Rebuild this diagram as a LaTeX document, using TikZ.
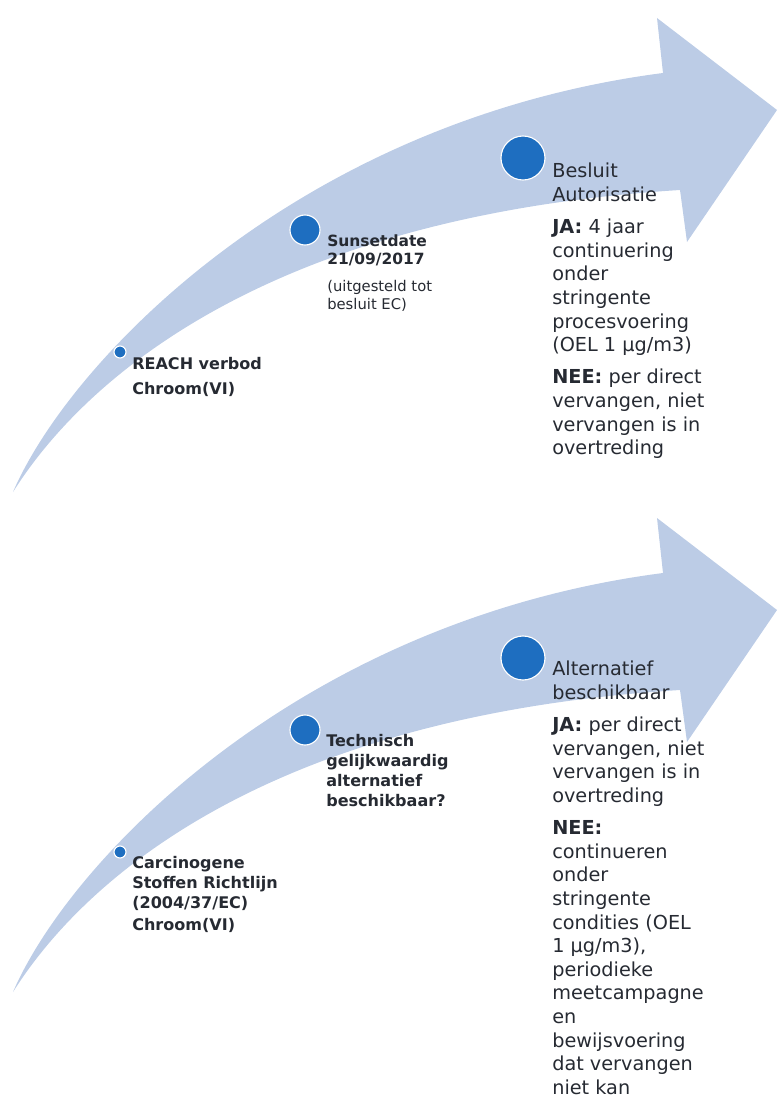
\documentclass[tikz,border=0pt]{standalone}
\usepackage{fontspec}
\setmainfont{DejaVu Sans}
\definecolor{arrowblue}{RGB}{188, 204, 230}
\definecolor{dotblue}{RGB}{30, 110, 192}
\definecolor{txtgray}{RGB}{38, 42, 50}
\usepackage{tikz}

\begin{document}
\begin{tikzpicture}[x=0.025cm, y=-0.025cm,
  mstone/.style={draw=white, line width=0.8pt, circle, fill=dotblue, inner sep=0pt},
  steplbl/.style={anchor=north west, inner sep=0pt, align=left, text=txtgray, font=\fontsize{11.4}{14.2}\selectfont\bfseries},
  outlbl/.style={anchor=north west, inner sep=0pt, align=left, text=txtgray, font=\fontsize{13.7}{16.8}\selectfont}]
  \useasboundingbox (0,0) rectangle (778,1110);

  % REACH (top arrow)
  \fill[arrowblue] (13,492) .. controls (70,360) and (300,120) .. (663,73) -- (657,18) -- (777,110)
    -- (687,242) -- (680,190) .. controls (280,215) and (90,370) .. (13,492) -- cycle;

  \node[mstone, minimum size=0.3cm] (m1) at (120,352) {};
  \node[mstone, minimum size=0.75cm] (m2) at (305,230) {};
  \node[mstone, minimum size=1.1cm] (m3) at (523,158) {};

  \node[steplbl] (r1) at (132,357) {REACH verbod\\[3.6pt]Chroom(VI)};
  \node[steplbl, font=\fontsize{11}{12.8}\selectfont\bfseries] (s1) at (327,234) {Sunsetdate\\21/09/2017};
  \node[steplbl, font=\fontsize{10.5}{12.8}\selectfont] (s1b) at (327,280) {(uitgesteld tot\\besluit EC)};
  \node[outlbl] (a1) at (552,163) {Besluit\\Autorisatie\\[6pt]
    \textbf{JA:} 4 jaar\\continuering\\onder\\stringente\\procesvoering\\(OEL 1 µg/m3)\\[6pt]
    \textbf{NEE:} per direct\\vervangen, niet\\vervangen is in\\overtreding};

  % Carcinogene stoffen (bottom arrow)
  \fill[arrowblue, shift={(0,500)}] (13,492) .. controls (70,360) and (300,120) .. (663,73) -- (657,18) -- (777,110)
    -- (687,242) -- (680,190) .. controls (280,215) and (90,370) .. (13,492) -- cycle;

  \node[mstone, minimum size=0.3cm] (m4) at (120,852) {};
  \node[mstone, minimum size=0.75cm] (m5) at (305,730) {};
  \node[mstone, minimum size=1.1cm] (m6) at (523,658) {};

  \node[steplbl] (r2) at (132,856) {Carcinogene\\Stoffen Richtlijn\\(2004/37/EC)\\[1.5pt]Chroom(VI)};
  \node[steplbl] (s2) at (326,734) {Technisch\\gelijkwaardig\\alternatief\\beschikbaar?};
  \node[outlbl] (a2) at (552,661) {Alternatief\\beschikbaar\\[6pt]
    \textbf{JA:} per direct\\vervangen, niet\\vervangen is in\\overtreding\\[6pt]
    \textbf{NEE:}\\continueren\\onder\\stringente\\condities (OEL\\1 µg/m3),\\periodieke\\meetcampagne\\en\\bewijsvoering\\dat vervangen\\niet kan};
\end{tikzpicture}
\end{document}
